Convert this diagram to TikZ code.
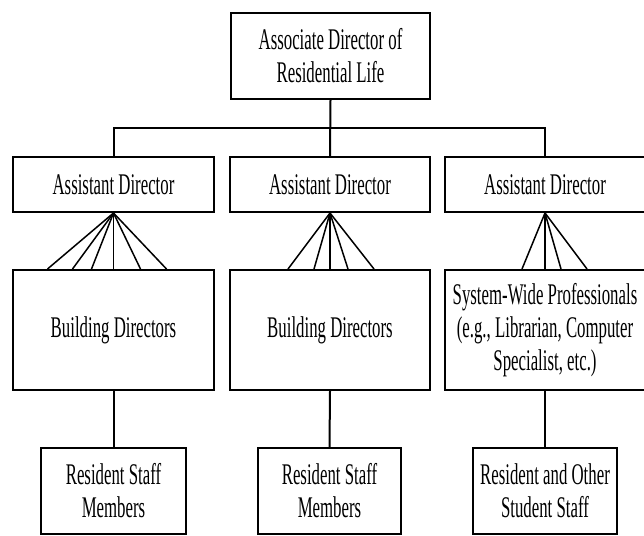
\documentclass[tikz,border=0pt]{standalone}
\usepackage{fontspec}
\setmainfont{Liberation Serif}[FakeStretch=0.56]
\usetikzlibrary{calc}
\begin{document}
\begin{tikzpicture}[x=1pt,y=-1pt,
  box/.style={draw, line width=2pt, rectangle, inner sep=1pt, align=center,
    font=\fontsize{30}{33}\selectfont},
  link/.style={line width=2pt},
  fan/.style={line width=1.5pt}]
\useasboundingbox[fill=white] (0,0) rectangle (644,535);
% top
\node[box, minimum width=199pt, minimum height=86pt] (top) at (330.5,56) {Associate Director of\\Residential Life};
% assistant directors
\node[box, minimum width=201pt, minimum height=55pt] (ad1) at (113.5,184.5) {Assistant Director};
\node[box, minimum width=200pt, minimum height=55pt] (ad2) at (330,184.5) {Assistant Director};
\node[box, minimum width=200pt, minimum height=55pt] (ad3) at (545,184.5) {Assistant Director};
% second level
\node[box, minimum width=201pt, minimum height=120pt] (bd1) at (113.5,330) {Building Directors};
\node[box, minimum width=200pt, minimum height=120pt] (bd2) at (330,330) {Building Directors};
\node[box, minimum width=200pt, minimum height=120pt] (bd3) at (545,330) {System-Wide Professionals\\(e.g., Librarian, Computer\\Specialist, etc.)};
% third level
\node[box, minimum width=145pt, minimum height=86pt] (rs1) at (113.5,491) {Resident Staff\\Members};
\node[box, minimum width=143pt, minimum height=86pt] (rs2) at (329.5,491) {Resident Staff\\Members};
\node[box, minimum width=144pt, minimum height=86pt] (rs3) at (545,491) {Resident and Other\\Student Staff};
% connectors
\coordinate (bar) at (330,128);
\draw[link] (top.south) -- (ad2.north);
\draw[link] (ad1.north) -- (ad1.north |- bar) -- (ad3.north |- bar) -- (ad3.north);
\foreach \dx in {-66,-41,-22,0,27,53}
  \draw[fan] (ad1.south) -- ($(bd1.north)+(\dx,0)$);
\foreach \dx in {-42,-16,0,18,44}
  \draw[fan] (ad2.south) -- ($(bd2.north)+(\dx,0)$);
\foreach \dx in {-23,0,16,42}
  \draw[fan] (ad3.south) -- ($(bd3.north)+(\dx,0)$);
\draw[link] (bd1.south) -- (rs1.north);
\draw[link] (bd2.south) -- (rs2.north);
\draw[link] (bd3.south) -- (rs3.north);
\end{tikzpicture}
\end{document}
